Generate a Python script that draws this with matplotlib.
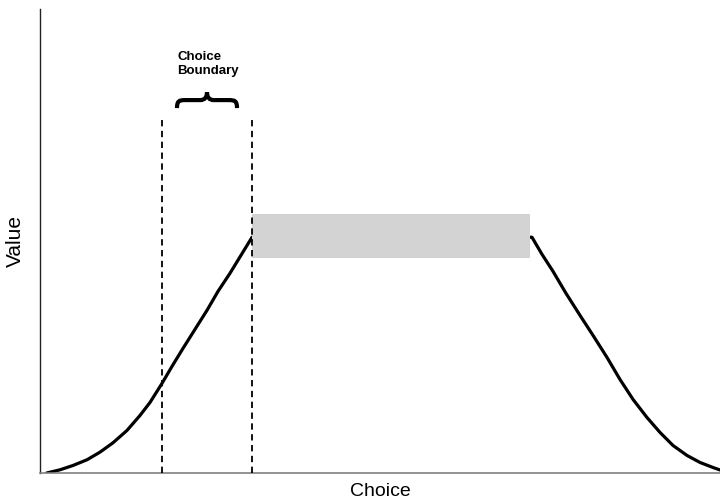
import matplotlib
matplotlib.use("Agg")
import matplotlib.pyplot as plt
from matplotlib.path import Path
from matplotlib.patches import PathPatch, Rectangle

# Curve (Choice vs Value)
choice = [0.99, 2.94, 4.85, 6.91, 8.82, 10.74, 12.79, 14.71, 16.18, 17.94,
          19.41, 21.03, 22.79, 24.56, 26.18, 27.94, 29.56, 31.18,
          72.35, 73.82, 75.44, 77.35, 79.41, 81.32, 83.38, 85.29, 87.21,
          89.26, 91.18, 93.09, 95.15, 97.06, 98.97, 100.0]
value = [0.0, 0.69, 1.62, 2.85, 4.49, 6.52, 9.17, 12.41, 15.21, 19.31,
         22.98, 26.86, 30.96, 35.06, 39.16, 43.05, 46.93, 50.81,
         50.81, 47.14, 43.47, 38.73, 33.98, 29.67, 24.92, 20.17, 15.86,
         11.97, 8.74, 5.93, 3.78, 2.27, 1.19, 0.65]

# Choice boundary (dashed lines) and plateau band
boundary_x = [17.9, 31.2]
boundary_top = 76.2
band_x = [31.2, 72.1]
band_y = [46.4, 55.9]

fig = plt.figure(figsize=(7.2, 5.0), dpi=100)
ax = fig.add_axes([40 / 720, 27 / 500, 680 / 720, 464 / 500])
ax.set_xlim(0, 100)
ax.set_ylim(0, 100)

ax.plot(choice, value, color="black", lw=2.3, solid_capstyle="round",
        solid_joinstyle="round", zorder=2)

ax.add_patch(Rectangle((band_x[0], band_y[0]), band_x[1] - band_x[0],
                       band_y[1] - band_y[0], facecolor="#d3d3d3",
                       edgecolor="none", zorder=3))

for bx in boundary_x:
    ax.plot([bx, bx], [0, boundary_top], color="black", lw=1.3,
            dashes=(3.5, 2.5), zorder=4)

# brace (defined in pixel space, converted to data)
def px2d(px, py):
    return ((px - 40) / 6.8, (472.5 - py) / 4.635)

pts = [(177, 108), (177, 101), (179, 100), (185, 100), (200, 100),
       (205, 100), (207, 97), (207, 92), (207, 97), (209, 100), (214, 100),
       (229, 100), (235, 100), (237, 101), (237, 108)]
codes = [Path.MOVETO, Path.CURVE4, Path.CURVE4, Path.CURVE4, Path.LINETO,
         Path.CURVE4, Path.CURVE4, Path.CURVE4, Path.CURVE4, Path.CURVE4,
         Path.CURVE4, Path.LINETO, Path.CURVE4, Path.CURVE4, Path.CURVE4]
verts = [px2d(*p) for p in pts]
ax.add_patch(PathPatch(Path(verts, codes), facecolor="none", edgecolor="black",
                       lw=3, capstyle="butt", joinstyle="miter", zorder=5))

tx, ty = px2d(177, 51)
ax.text(tx, ty, "Choice\nBoundary", ha="left", va="top", fontsize=9.5,
        fontweight="bold", family="Liberation Sans", linespacing=1.25)

ax.set_xlabel("Choice", fontsize=14, family="Liberation Sans", labelpad=7)
ax.set_ylabel("Value", fontsize=15, family="Liberation Sans", labelpad=11)
ax.set_xticks([])
ax.set_yticks([])
ax.spines["top"].set_visible(False)
ax.spines["right"].set_visible(False)
ax.spines["left"].set_color("#222222")
ax.spines["bottom"].set_color("#808080")
ax.spines["left"].set_linewidth(1)
ax.spines["bottom"].set_linewidth(1.2)

fig.savefig("out.png", dpi=100)
